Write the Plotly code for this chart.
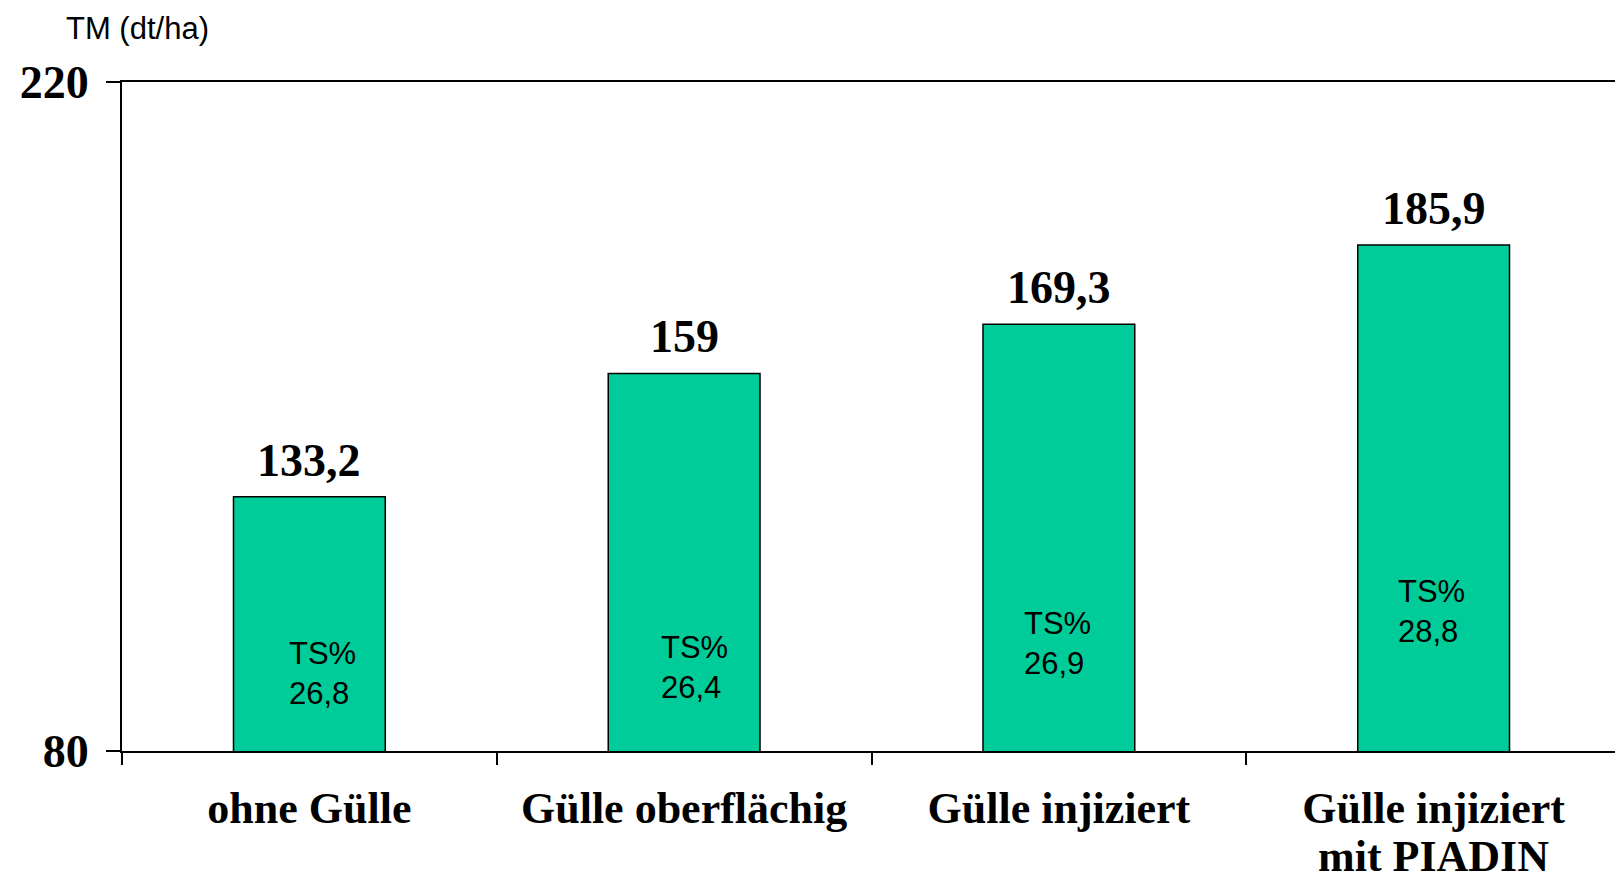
import plotly.graph_objects as go

# Daten
kategorien = ["ohne Gülle", "Gülle oberflächig", "Gülle injiziert", "Gülle injiziert<br>mit PIADIN"]
tm_werte = [133.2, 159, 169.3, 185.9]
tm_text = ["133,2", "159", "169,3", "185,9"]
ts_werte = ["26,8", "26,4", "26,9", "28,8"]

# Lage der TS%-Beschriftung in den Säulen (y in dt/ha, x-Versatz in px)
ts_label_y = [96.3, 97.5, 102.6, 109.1]
ts_label_dx = [-22, -25, -37, -38]

serif = "Liberation Serif, Times New Roman, serif"
sans = "Liberation Sans, Arial, sans-serif"

fig = go.Figure(go.Bar(
    x=kategorien, y=tm_werte,
    marker=dict(color="#00CC99", line=dict(color="black", width=1.5)),
))

# Werte über den Säulen
for kat, wert, txt in zip(kategorien, tm_werte, tm_text):
    fig.add_annotation(
        x=kat, y=wert, text=txt, showarrow=False,
        yanchor="bottom", yshift=9,
        font=dict(family=serif, size=46, color="black", weight="bold"),
    )

# TS%-Werte in den Säulen
for kat, ts, yy, dx in zip(kategorien, ts_werte, ts_label_y, ts_label_dx):
    fig.add_annotation(
        x=kat, y=yy, text="TS%<br>" + ts, showarrow=False,
        xanchor="left", yanchor="middle", align="left", xshift=dx,
        font=dict(family=sans, size=31, color="black"),
    )

# zweite Zeile mehrzeiliger Kategorien (engerer Zeilenabstand als Plotly)
for kat in kategorien:
    zeilen = kat.split("<br>")
    if len(zeilen) > 1:
        fig.add_annotation(
            x=kat, xref="x", yref="paper", y=0, yshift=-105,
            yanchor="middle", text=zeilen[1], showarrow=False,
            font=dict(family=serif, size=44, color="black", weight="bold"),
        )

fig.add_annotation(
    xref="paper", yref="paper", x=0, y=1, xshift=-58, yshift=54,
    xanchor="left", yanchor="middle", text="TM (dt/ha)", showarrow=False,
    font=dict(family=sans, size=31, color="black"),
)

fig.update_layout(
    width=1615, height=869,
    margin=dict(l=114, r=2, t=74, b=126),
    plot_bgcolor="white", paper_bgcolor="white",
    bargap=0.595, showlegend=False,
    xaxis=dict(
        showline=True, linecolor="black", linewidth=2, mirror=True,
        ticks="outside", ticklen=12, tickwidth=2, tickcolor="black",
        tickson="boundaries", ticklabelstandoff=17, automargin=False,
        tickvals=kategorien, ticktext=[k.split("<br>")[0] for k in kategorien],
        tickfont=dict(family=serif, size=44, color="black", weight="bold"),
        showgrid=False,
    ),
    yaxis=dict(
        range=[80, 220], tickvals=[80, 220],
        showline=True, linecolor="black", linewidth=2, mirror=True,
        ticks="outside", ticklen=14, tickwidth=2, tickcolor="black",
        ticklabelstandoff=8, automargin=False,
        tickfont=dict(family=serif, size=46, color="black", weight="bold"),
        showgrid=False, zeroline=False,
    ),
)

fig.write_html("out.html")
